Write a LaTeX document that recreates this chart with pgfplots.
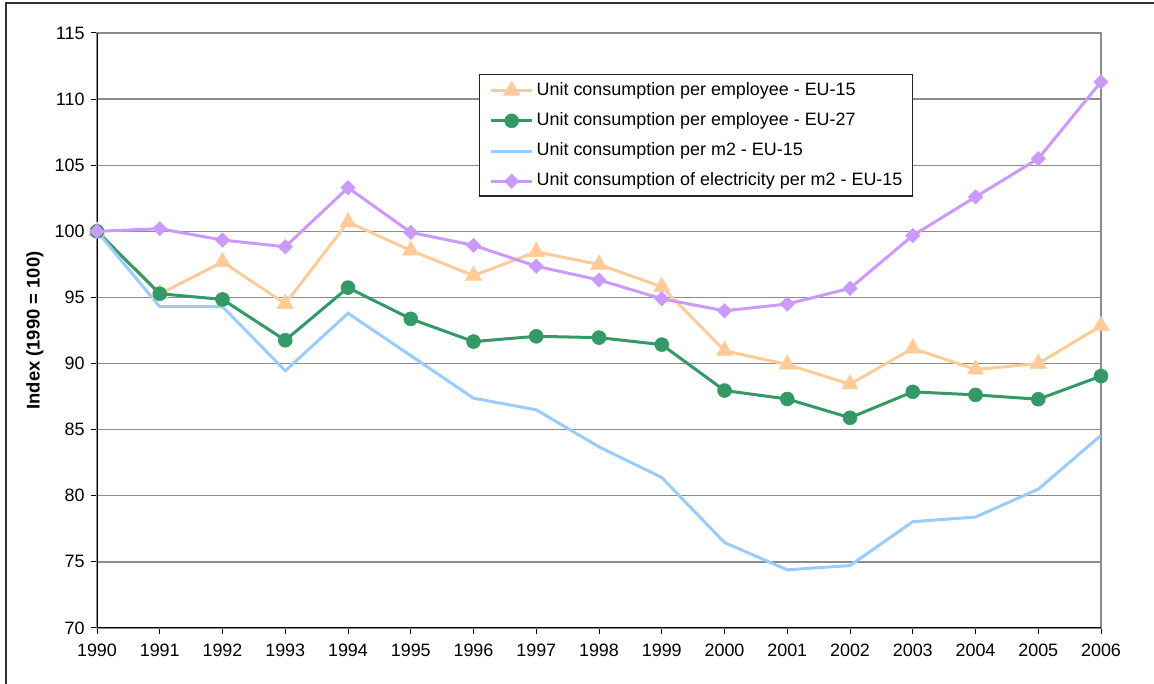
\documentclass[border=0pt]{standalone}
\usepackage{pgfplots}
\pgfplotsset{compat=1.18}
\usepackage{fontspec}
\setmainfont{Liberation Sans}
\definecolor{cOr}{HTML}{FFCC99}
\definecolor{cGr}{HTML}{339966}
\definecolor{cBl}{HTML}{99CCFF}
\definecolor{cPu}{HTML}{CC99FF}
\definecolor{cGrid}{HTML}{8C8C8C}
\begin{document}
\begin{tikzpicture}[x=1bp,y=1bp]
\useasboundingbox (0,0) rectangle (1154,684);
\draw[line width=1.6bp, black!80] (6,0) -- (6,681) -- (1154,681);
\begin{axis}[
  at={(97bp,56bp)}, anchor=south west,
  width=1004bp, height=595bp, scale only axis,
  xmin=1990, xmax=2006, ymin=70, ymax=115,
  xtick={1990,1991,...,2006}, ytick={70,75,...,115},
  /pgf/number format/assume math mode=true,
  /pgf/number format/1000 sep={},
  tick label style={font=\fontsize{18}{21}\selectfont, text=black},
  xticklabel style={yshift=-6bp},
  yticklabel style={xshift=-3bp},
  ymajorgrids, grid style={cGrid, line width=1.3bp},
  axis line style={cGrid, line width=1.3bp},
  tick align=outside, tick pos=left, major tick length=6bp,
  tick style={black, line width=1bp},
  ylabel={\bfseries Index (1990 = 100)},
  ylabel style={at={(axis description cs:-0.0618,0.5)}, anchor=center, font=\fontsize{18.5}{21}\selectfont},
  legend style={at={(axis description cs:0.3805,0.9311)}, anchor=north west,
    draw=black!85, line width=1.3bp, fill=white,
    inner xsep=10bp, inner ysep=6.5bp,
    font=\fontsize{18}{21}\selectfont,
    nodes={inner sep=0pt, text height=13bp, text depth=3.8bp},
    row sep=13.4bp,
    /tikz/every odd column/.append style={column sep=3bp}},
  legend cell align=left,
  legend image code/.code={\draw[mark repeat=2,mark phase=2,#1] plot coordinates {(0bp,0bp) (20.5bp,0bp) (41bp,0bp)};},
  every axis plot/.append style={line width=3bp},
]
\addplot[cOr, mark=triangle*, mark size=9.5bp, mark options={fill=cOr, draw=cOr, line width=0.5bp}] coordinates {
(1990,100) (1991,95.26) (1992,97.69) (1993,94.52) (1994,100.7) (1995,98.55) (1996,96.65) (1997,98.45) (1998,97.49) (1999,95.8) (2000,90.97) (2001,89.93) (2002,88.44) (2003,91.15) (2004,89.55) (2005,90.0) (2006,92.85)};
\addlegendentry{Unit consumption per employee - EU-15}
\addplot[cGr, mark=*, mark size=7bp, mark options={fill=cGr, draw=cGr, line width=0.5bp}] coordinates {
(1990,100) (1991,95.28) (1992,94.85) (1993,91.76) (1994,95.74) (1995,93.38) (1996,91.66) (1997,92.06) (1998,91.96) (1999,91.43) (2000,87.96) (2001,87.32) (2002,85.9) (2003,87.86) (2004,87.63) (2005,87.3) (2006,89.05)};
\addlegendentry{Unit consumption per employee - EU-27}
\addplot[cBl, no marks] coordinates {
(1990,100) (1991,94.3) (1992,94.3) (1993,89.45) (1994,93.8) (1995,90.6) (1996,87.38) (1997,86.5) (1998,83.7) (1999,81.38) (2000,76.46) (2001,74.4) (2002,74.72) (2003,78.04) (2004,78.39) (2005,80.5) (2006,84.57)};
\addlegendentry{Unit consumption per m2 - EU-15}
\addplot[cPu, mark=square*, mark size=5.1bp, mark options={fill=cPu, draw=cPu, rotate=45, line width=0.5bp}] coordinates {
(1990,100) (1991,100.2) (1992,99.34) (1993,98.83) (1994,103.3) (1995,99.92) (1996,98.94) (1997,97.36) (1998,96.32) (1999,94.9) (2000,93.99) (2001,94.5) (2002,95.69) (2003,99.68) (2004,102.6) (2005,105.5) (2006,111.3)};
\addlegendentry{Unit consumption of electricity per m2 - EU-15}
\draw[black, line width=1.5bp] (rel axis cs:0,1) -- (rel axis cs:0,0) -- (rel axis cs:1,0);
\end{axis}
\end{tikzpicture}
\end{document}
